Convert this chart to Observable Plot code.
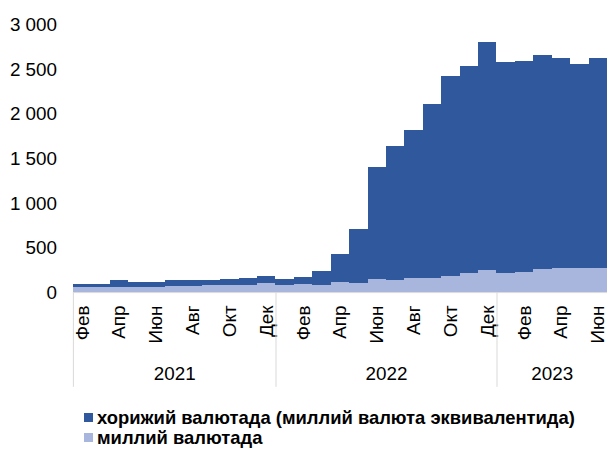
<!DOCTYPE html>
<html><head><meta charset="utf-8">
<script src="https://cdn.jsdelivr.net/npm/d3@7"></script>
<script src="https://cdn.jsdelivr.net/npm/@observablehq/plot@0.6"></script>
<style>
html,body{margin:0;padding:0;width:607px;height:455px;overflow:hidden;background:#fff;font-family:"Liberation Sans",Arial,sans-serif;}
#chart svg{display:block;overflow:visible}
.legend{padding-top:11px;padding-left:84px;}
.row{display:flex;align-items:center;height:20px;font-weight:bold;font-size:18.4px;color:#000;white-space:nowrap}
.sw{width:9px;height:9px;margin-right:4px;flex:none}
</style></head><body>
<div id="chart"></div>
<div class="legend" id="legend"></div>
<script>
const months = ["Фев","Мар","Апр","Май","Июн","Июл","Авг","Сен","Окт","Ноя","Дек",
  "Янв","Фев","Мар","Апр","Май","Июн","Июл","Авг","Сен","Окт","Ноя","Дек",
  "Янв","Фев","Мар","Апр","Май","Июн"];
const years = [2021,2021,2021,2021,2021,2021,2021,2021,2021,2021,2021,
  2022,2022,2022,2022,2022,2022,2022,2022,2022,2022,2022,2022,
  2023,2023,2023,2023,2023,2023];
// миллий валютада (bottom, light)
const national = [55,55,62,62,62,66,70,74,78,85,100,
  85,92,85,115,107,144,141,156,163,181,211,252,
  215,230,256,274,270,274];
// хорижий валютада (top, dark)
const foreign = [37,37,79,49,56,75,63,67,67,70,85,
  63,75,156,311,597,1264,1500,1666,1945,2241,2330,2551,
  2366,2362,2403,2352,2289,2352];
const yTicks = [0,500,1000,1500,2000,2500,3000];
const seriesNames = ["миллий валютада","хорижий валютада (миллий валюта эквивалентида)"];
const colors = ["#A8B5DC","#30589D"];

const stacked = [];
months.forEach((m,i)=>{
  stacked.push({x1:i,x2:i+1,y1:0,y2:national[i],series:seriesNames[0]});
  stacked.push({x1:i,x2:i+1,y1:national[i],y2:national[i]+foreign[i],series:seriesNames[1]});
});
const labelPos = months.map((m,i)=>i+0.5).filter((d,i)=>i%2===0);
const yearList = Array.from(new Set(years));
const yearGroups = yearList.map(y=>{
  const idx = years.map((v,i)=>v===y?i:-1).filter(i=>i>=0);
  return {year:String(y), start:idx[0], end:idx[idx.length-1]+1, center:(idx[0]+idx[idx.length-1]+1)/2};
});
const boundaries = [0, ...yearGroups.map(g=>g.end)];
const fmt = d => d3.format(",")(d).replace(/,/g," ");

const chart = Plot.plot({
  width: 612, height: 400,
  marginLeft: 73.5, marginRight: 0, marginTop: 25, marginBottom: 105.5,
  x: {type:"linear", domain:[0, months.length], axis:null},
  y: {domain:[0,3000], axis:null},
  color: {domain: seriesNames, range: colors},
  style: {fontFamily:"'Liberation Sans', Arial, sans-serif", fontSize:"19px", color:"#000", background:"#fff"},
  marks: [
    Plot.rectY(stacked, {x1:"x1", x2:"x2", y1:"y1", y2:"y2", fill:"series", shapeRendering:"crispEdges"}),
    Plot.ruleY([0], {stroke:"#d9d9d9"}),
    Plot.axisY(yTicks, {tickSize:0, tickPadding:16.5, tickFormat:fmt, fontSize:19}),
    Plot.axisX(labelPos, {tickSize:0, tickRotate:-90, tickPadding:13, tickFormat:d=>months[Math.floor(d)], fontSize:19}),
    Plot.axisX(boundaries, {tickSize:95.5, tickFormat:()=>"", stroke:"#d9d9d9"}),
    Plot.text(yearGroups, {x:"center", text:"year", frameAnchor:"bottom", lineAnchor:"middle", dy:82.5, fontSize:19, fill:"#000"})
  ]
});
document.getElementById("chart").appendChild(chart);

const legend = document.getElementById("legend");
[1,0].forEach(k=>{
  const row = document.createElement("div"); row.className="row";
  const sw = document.createElement("span"); sw.className="sw"; sw.style.background=colors[k];
  const t = document.createElement("span"); t.textContent = seriesNames[k];
  row.appendChild(sw); row.appendChild(t); legend.appendChild(row);
});
</script>
</body></html>
